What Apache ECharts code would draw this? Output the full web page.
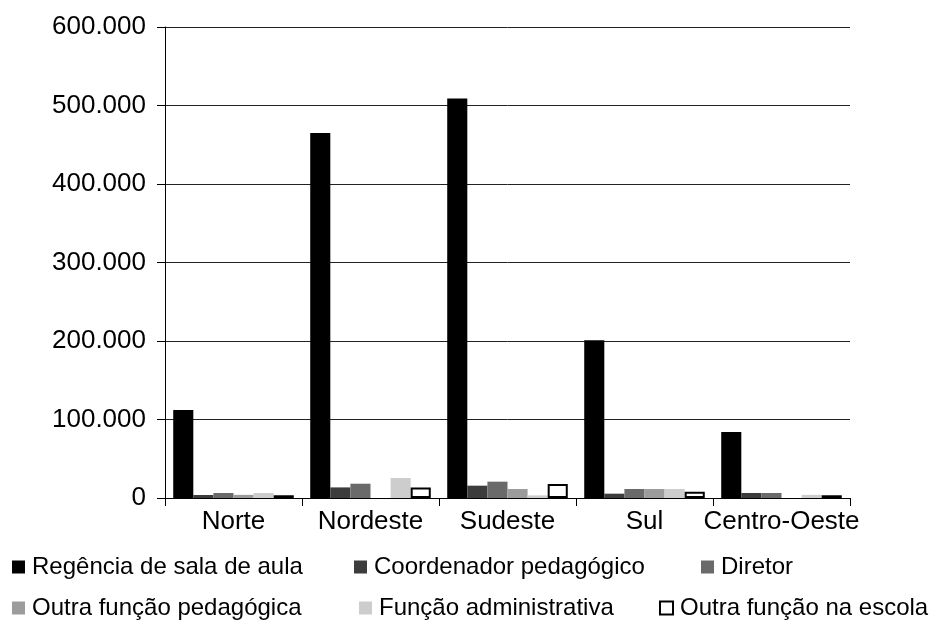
<!DOCTYPE html>
<html>
<head>
<meta charset="utf-8">
<script src="https://cdn.jsdelivr.net/npm/echarts@6/dist/echarts.min.js"></script>
<style>
  html, body { margin: 0; padding: 0; background: #fff; }
  #chart { width: 935px; height: 620px; }
</style>
</head>
<body>
<div id="chart"></div>
<script>
// regions
const regioes = ['Norte', 'Nordeste', 'Sudeste', 'Sul', 'Centro-Oeste'];

// series names
const funcoes = [
  'Regência de sala de aula',
  'Coordenador pedagógico',
  'Diretor',
  'Outra função pedagógica',
  'Função administrativa',
  'Outra função na escola'
];

// values
const regencia = [112000, 465000, 509000, 201000, 84000];
const coordenador = [3800, 13500, 15700, 5500, 6400];
const diretor = [6400, 18200, 20800, 11500, 6400];
const outraPedagogica = [4000, 0, 11500, 11500, 0];
const funcaoAdm = [6400, 25500, 3300, 11500, 4000];
const outraEscola = [3500, 13500, 17800, 8000, 3500];

const yTicks = [0, 100000, 200000, 300000, 400000, 500000, 600000];

const valores = [regencia, coordenador, diretor, outraPedagogica, funcaoAdm, outraEscola];
const cores = ['#000000', '#3c3c3c', '#6a6a6a', '#9c9c9c', '#cdcdcd', '#ffffff'];

const fonte = '"Liberation Sans", Arial, sans-serif';

function fmt(v) {
  return String(v).replace(/\B(?=(\d{3})+(?!\d))/g, '.');
}

let series = funcoes.map((nome, i) => ({
  name: nome,
  type: 'bar',
  data: valores[i],
  barGap: '0%',
  barCategoryGap: '12%',
  itemStyle: i === 5
    ? { color: cores[i], borderColor: '#000', borderWidth: 2 }
    : { color: cores[i] }
}));

// legend laid out in two rows of three
const legPos = [
  [12, 555], [354, 555], [701, 555],
  [12, 596], [359, 596], [659, 596]
];
let legends = funcoes.map((nome, i) => ({
  data: [nome],
  left: legPos[i][0],
  top: legPos[i][1],
  padding: 0,
  icon: 'rect',
  itemWidth: 13,
  itemHeight: 13,
  itemGap: 0,
  selectedMode: false,
  textStyle: { fontFamily: fonte, fontSize: 24, color: '#000', padding: [0, 0, 0, 2] }
}));

let mycharts = echarts.init(document.getElementById('chart'), null, { renderer: 'canvas' });

mycharts.setOption({
  animation: false,
  backgroundColor: '#fff',
  legend: legends,
  grid: {
    left: 165,
    right: 85,
    top: 27,
    bottom: 122,
    containLabel: false,
    outerBoundsMode: 'none'
  },
  xAxis: {
    type: 'category',
    data: regioes,
    axisLine: { show: true, lineStyle: { color: '#000', width: 1 } },
    axisTick: { show: true, length: 8, lineStyle: { color: '#000' } },
    axisLabel: { interval: 0, fontFamily: fonte, fontSize: 26, color: '#000', margin: 11, hideOverlap: false }
  },
  yAxis: {
    type: 'value',
    min: yTicks[0],
    max: yTicks[yTicks.length - 1],
    interval: yTicks[1] - yTicks[0],
    axisLine: { show: true, lineStyle: { color: '#000', width: 1 } },
    axisTick: { show: true, length: 8, lineStyle: { color: '#000' } },
    splitLine: { show: true, lineStyle: { color: '#222', width: 1 } },
    axisLabel: {
      fontFamily: fonte, fontSize: 26, color: '#000', margin: 19,
      formatter: fmt
    }
  },
  series: series
});
</script>
</body>
</html>
